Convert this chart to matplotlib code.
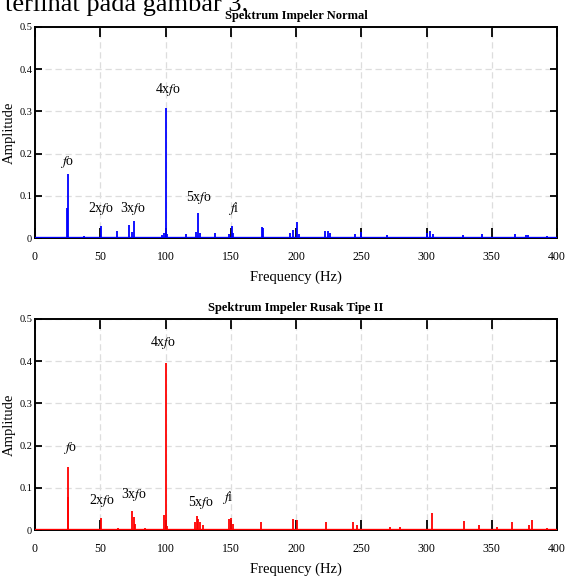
import matplotlib
matplotlib.use("Agg")
import matplotlib.pyplot as plt

plt.rcParams['font.family'] = ['Liberation Serif', 'DejaVu Serif']
plt.rcParams['mathtext.fontset'] = 'stix'

# ---- data ----
freq_normal = [24.6, 25.0, 37.8, 50.6, 62.6, 72.3, 74.0, 75.9, 97.5, 99.0, 100.1, 101.5,
               115.7, 123.0, 125.2, 126.5, 138.2, 149.0, 150.7, 152.0, 174.0, 175.0,
               195.5, 198.0, 200.5, 202.0, 222.0, 224.5, 226.0, 245.0, 249.5, 269.5,
               300.5, 302.7, 305.0, 327.7, 342.8, 367.8, 376.0, 378.0, 392.0]
amp_normal = [0.070, 0.152, 0.005, 0.028, 0.017, 0.031, 0.015, 0.040, 0.008, 0.012, 0.307, 0.010,
              0.010, 0.015, 0.060, 0.012, 0.012, 0.010, 0.028, 0.012, 0.025, 0.024,
              0.012, 0.020, 0.038, 0.010, 0.017, 0.017, 0.012, 0.010, 0.015, 0.008,
              0.012, 0.017, 0.010, 0.006, 0.010, 0.010, 0.006, 0.008, 0.004]

freq_rusak = [25.0, 25.2, 50.4, 63.6, 74.3, 75.5, 76.8, 84.0, 99.1, 100.0, 101.5,
              122.5, 124.0, 125.0, 126.5, 128.5, 149.0, 150.5, 152.0, 173.4,
              198.0, 200.5, 222.7, 243.4, 247.0, 272.0, 279.7, 304.5, 329.0, 340.5,
              353.8, 365.3, 378.5, 380.6, 392.0]
amp_rusak = [0.150, 0.079, 0.028, 0.005, 0.046, 0.030, 0.015, 0.005, 0.036, 0.396, 0.010,
             0.020, 0.032, 0.025, 0.020, 0.012, 0.025, 0.028, 0.015, 0.018,
             0.026, 0.023, 0.020, 0.018, 0.012, 0.008, 0.008, 0.040, 0.022, 0.012,
             0.008, 0.018, 0.012, 0.023, 0.005]

ann_text = [r"$\it{f}$o", r"2x$\it{f}$o", r"3x$\it{f}$o", r"4x$\it{f}$o", r"5x$\it{f}$o", r"$\it{f}$i"]
ann_normal_x = [25.0, 50.6, 75.0, 102.0, 126.0, 152.0]
ann_normal_y = [0.180, 0.071, 0.071, 0.353, 0.095, 0.071]
ann_rusak_x = [26.8, 51.0, 75.8, 98.0, 127.0, 148.0]
ann_rusak_y = [0.194, 0.071, 0.083, 0.445, 0.064, 0.078]

xticks = [0, 50, 100, 150, 200, 250, 300, 350, 400]
yticks = [0, 0.1, 0.2, 0.3, 0.4, 0.5]
ytick_labels = ["0", "0.1", "0.2", "0.3", "0.4", "0.5"]

fig = plt.figure(figsize=(5.71, 5.81), dpi=100)
fig.text(0.008, 1 - 11 / 581, "terlihat pada gambar 3.", fontsize=19, va='baseline', ha='left')

W, H = 571, 581
def make_ax(top_px, bottom_px):
    return fig.add_axes([35 / W, 1 - bottom_px / H, (557 - 35) / W, (bottom_px - top_px) / H])

def draw(ax, freqs, amps, color, title, ax_x, ax_y):
    ax.axhline(0, color=color, lw=2.4, zorder=3)
    ax.vlines(freqs, 0, amps, color=color, lw=1.3, zorder=3)
    ax.set_xlim(0, 400)
    ax.set_ylim(0, 0.5)
    ax.set_xticks(xticks)
    ax.set_yticks(yticks)
    ax.set_yticklabels(ytick_labels)
    ax.tick_params(direction='in', top=True, right=True, length=5, width=1.3, labelsize=8.5)
    ax.tick_params(axis='y', pad=2, labelsize=7.5)
    ax.tick_params(axis='x', length=7.5, pad=9)
    ax.grid(True, ls=(0, (5, 3)), color='#dddddd', lw=0.9, zorder=0)
    for s in ax.spines.values():
        s.set_linewidth(1.4)
    ax.set_title(title, fontsize=9, fontweight='bold', pad=6)
    ax.set_xlabel("Frequency (Hz)", fontsize=10.5, labelpad=6)
    ax.set_ylabel("Amplitude", fontsize=10.5)
    ax.yaxis.set_label_coords(-0.036, 0.5)
    for t, x, y in zip(ann_text, ax_x, ax_y):
        ax.text(x, y, t, fontsize=10, ha='center', va='center', zorder=4)

ax1 = make_ax(27, 238)
draw(ax1, freq_normal, amp_normal, '#0000ff', "Spektrum Impeler Normal", ann_normal_x, ann_normal_y)
ax2 = make_ax(319, 530)
draw(ax2, freq_rusak, amp_rusak, '#ff0000', "Spektrum Impeler Rusak Tipe II", ann_rusak_x, ann_rusak_y)

fig.savefig("out.png", dpi=100)
